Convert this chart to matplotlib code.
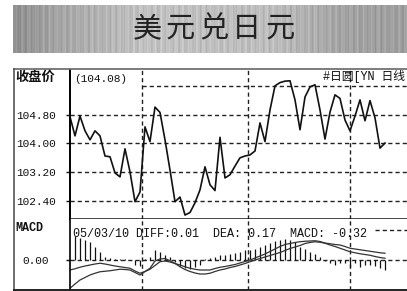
import numpy as np
import matplotlib
matplotlib.use("Agg")
import matplotlib.pyplot as plt
from matplotlib.lines import Line2D

# closing price, one value per trading day
price = [104.74, 104.21, 104.76, 104.35, 104.10, 104.35, 104.21, 103.65, 103.63, 103.18,
         103.07, 103.85, 103.21, 102.38, 102.65, 104.46, 104.05, 105.01, 104.86, 104.10,
         103.26, 102.38, 102.51, 102.01, 102.08, 102.35, 102.71, 103.35, 102.85, 102.69,
         104.17, 103.04, 103.13, 103.37, 103.60, 103.65, 103.68, 103.79, 104.57, 104.05,
         104.93, 105.60, 105.69, 105.73, 105.74, 105.21, 104.38, 105.29, 105.57, 105.63,
         104.93, 104.12, 104.87, 105.35, 105.25, 104.65, 104.35, 104.76, 105.21, 104.63,
         105.19, 104.71, 103.87, 104.01]

# MACD indicator lines and histogram
dea = [-0.40, -0.35, -0.29, -0.24, -0.20, -0.16, -0.13, -0.16, -0.20, -0.24,
       -0.27, -0.30, -0.33, -0.44, -0.53, -0.46, -0.37, -0.22, -0.07, -0.04,
       -0.08, -0.14, -0.20, -0.27, -0.33, -0.37, -0.40, -0.40, -0.40, -0.34,
       -0.29, -0.26, -0.22, -0.18, -0.12, -0.06, 0.00, 0.08, 0.16, 0.24,
       0.34, 0.44, 0.54, 0.62, 0.66, 0.70, 0.73, 0.75, 0.76, 0.77,
       0.74, 0.68, 0.65, 0.62, 0.60, 0.54, 0.47, 0.44, 0.41, 0.38,
       0.35, 0.32, 0.29, 0.27]
diff = [-1.13, -0.96, -0.80, -0.70, -0.60, -0.53, -0.47, -0.45, -0.43, -0.40,
        -0.37, -0.38, -0.40, -0.50, -0.60, -0.46, -0.33, -0.04, 0.04, 0.06,
        -0.03, -0.14, -0.27, -0.38, -0.46, -0.52, -0.56, -0.56, -0.53, -0.46,
        -0.40, -0.36, -0.30, -0.26, -0.20, -0.14, -0.07, 0.00, 0.06, 0.12,
        0.18, 0.24, 0.30, 0.38, 0.46, 0.52, 0.58, 0.66, 0.70, 0.73,
        0.71, 0.67, 0.60, 0.54, 0.47, 0.40, 0.33, 0.29, 0.25, 0.22,
        0.19, 0.14, 0.10, 0.07]
macd = [0.00, 0.96, 0.88, 0.80, 0.72, 0.52, 0.32, 0.14, 0.10, 0.04,
        0.04, 0.04, 0.02, -0.20, -0.24, 0.04, 0.14, 0.40, 0.32, 0.20,
        0.12, -0.08, -0.24, -0.32, -0.36, -0.28, -0.20, 0.04, 0.08, 0.12,
        0.20, 0.20, 0.24, 0.28, 0.32, 0.40, 0.42, 0.46, 0.52, 0.60,
        0.68, 0.76, 0.82, 0.86, 0.82, 0.74, 0.54, 0.46, 0.34, 0.26,
        0.13, -0.04, -0.13, -0.20, -0.13, -0.13, -0.27, -0.13, -0.27, -0.20,
        -0.20, -0.24, -0.33, -0.40]

price_ticks = [104.80, 104.00, 103.20, 102.40]
price_grid = [105.60, 104.80, 104.00, 103.20, 102.40]
month_marks = [14.4, 35.6, 56.0]

W, H = 407, 291
fig = plt.figure(figsize=(W / 100, H / 100), dpi=100)
fig.patch.set_facecolor("white")

def fx(px):
    return px / W

def fy(py):
    return 1 - py / H

mono = "Liberation Mono"
cjk = "Noto Sans CJK SC"
dash = (0, (3, 2.2))

# title banner
bax = fig.add_axes([fx(13), fy(53), fx(394), 48 / H])
cols = np.arange(394)
base = np.interp(cols, [0, 40, 130, 260, 330, 393], [0.56, 0.64, 0.76, 0.74, 0.64, 0.62])
stripes = 0.03 * np.sin(cols * 0.9) + 0.02 * np.sin(cols * 2.3 + 1) + 0.015 * np.sin(cols * 5.1)
row = np.clip(base + stripes, 0, 1)
bax.imshow(np.tile(row, (10, 1)), cmap="gray", vmin=0, vmax=1, aspect="auto")
bax.axis("off")
title_chars = "美元兑日元"
for k, ch in enumerate(title_chars):
    fig.text(fx(147 + k * 33.3), fy(29), ch, fontsize=21, family=cjk,
             color="#222222", ha="center", va="center")

# outer frame
fig.add_artist(Line2D([fx(14), 1], [fy(69), fy(69)], color="#666666", lw=1.2))
fig.add_artist(Line2D([fx(14), fx(14)], [fy(69), 0], color="#555555", lw=1.2))
fig.add_artist(Line2D([fx(14), 1], [fy(290), fy(290)], color="#222222", lw=1.4))

x = np.arange(len(price))

# price panel
ax = fig.add_axes([fx(70), fy(219), fx(350), 149 / H])
ax.set_xlim(0, 70)
ax.set_ylim(101.90, 106.04)
for v in price_grid:
    start = month_marks[0] if v == 105.60 else 0
    ax.hlines(v, start, 70, colors="#222222", lw=1.0, linestyles=dash)
for m in month_marks:
    ax.axvline(m, color="#222222", lw=1.0, linestyle=dash)
ax.plot(x, price, color="#111111", lw=1.2)
ax.set_xticks([])
ax.set_yticks(price_ticks)
ax.set_yticklabels([f"{v:.2f}" for v in price_ticks], family=mono, fontsize=8)
ax.tick_params(axis="y", direction="out", length=3, width=1.0, pad=7, colors="#111111")
for s in ["top", "right"]:
    ax.spines[s].set_visible(False)
ax.spines["left"].set_linestyle((0, (2, 1)))
ax.spines["left"].set_linewidth(1.4)
ax.spines["bottom"].set_linewidth(1.8)
ax.spines["bottom"].set_color("#111111")
fig.text(fx(15), fy(77), "收盘价", family=cjk, fontsize=9.5, fontweight="bold",
         va="center", ha="left", color="#111111")
ax.text(0.8, 105.79, "(104.08)", family=mono, fontsize=8, va="center", ha="left", color="#111111")
fig.text(fx(323), fy(77), "#日圆[YN 日线", family=[mono, cjk], fontsize=8.5,
         va="center", ha="left", color="#111111")

# MACD panel
mx = fig.add_axes([fx(70), fy(290), fx(350), 71 / H])
mx.set_xlim(0, 70)
mx.set_ylim(-1.2, 1.64)
mx.axhline(0, color="#222222", lw=1.0, linestyle=dash)
mx.hlines(1.2, 61, 70, colors="#222222", lw=1.0, linestyles=dash)
for m in month_marks:
    mx.axvline(m, color="#222222", lw=1.0, linestyle=dash)
mx.vlines(x, 0, macd, colors="#111111", lw=0.9)
mx.plot(x, dea, color="#333333", lw=0.9)
mx.plot(x, diff, color="#333333", lw=0.9)
mx.set_xticks([])
mx.set_yticks([0])
mx.set_yticklabels(["0.00"], family=mono, fontsize=8)
mx.tick_params(axis="y", direction="out", length=3, width=1.0, pad=12, colors="#111111")
for s in ["top", "right", "bottom"]:
    mx.spines[s].set_visible(False)
mx.spines["left"].set_linewidth(1.2)
fig.text(fx(15), fy(228), "MACD", family=mono, fontsize=8.5, fontweight="bold",
         va="center", ha="left", color="#111111")
fig.text(fx(73), fy(234), "05/03/10 DIFF:0.01", family=mono, fontsize=8.5,
         va="center", ha="left", color="#111111")
fig.text(fx(213), fy(234), "DEA: 0.17", family=mono, fontsize=8.5,
         va="center", ha="left", color="#111111")
fig.text(fx(290), fy(234), "MACD: -0.32", family=mono, fontsize=8.5,
         va="center", ha="left", color="#111111")

fig.savefig("out.png", dpi=100)
